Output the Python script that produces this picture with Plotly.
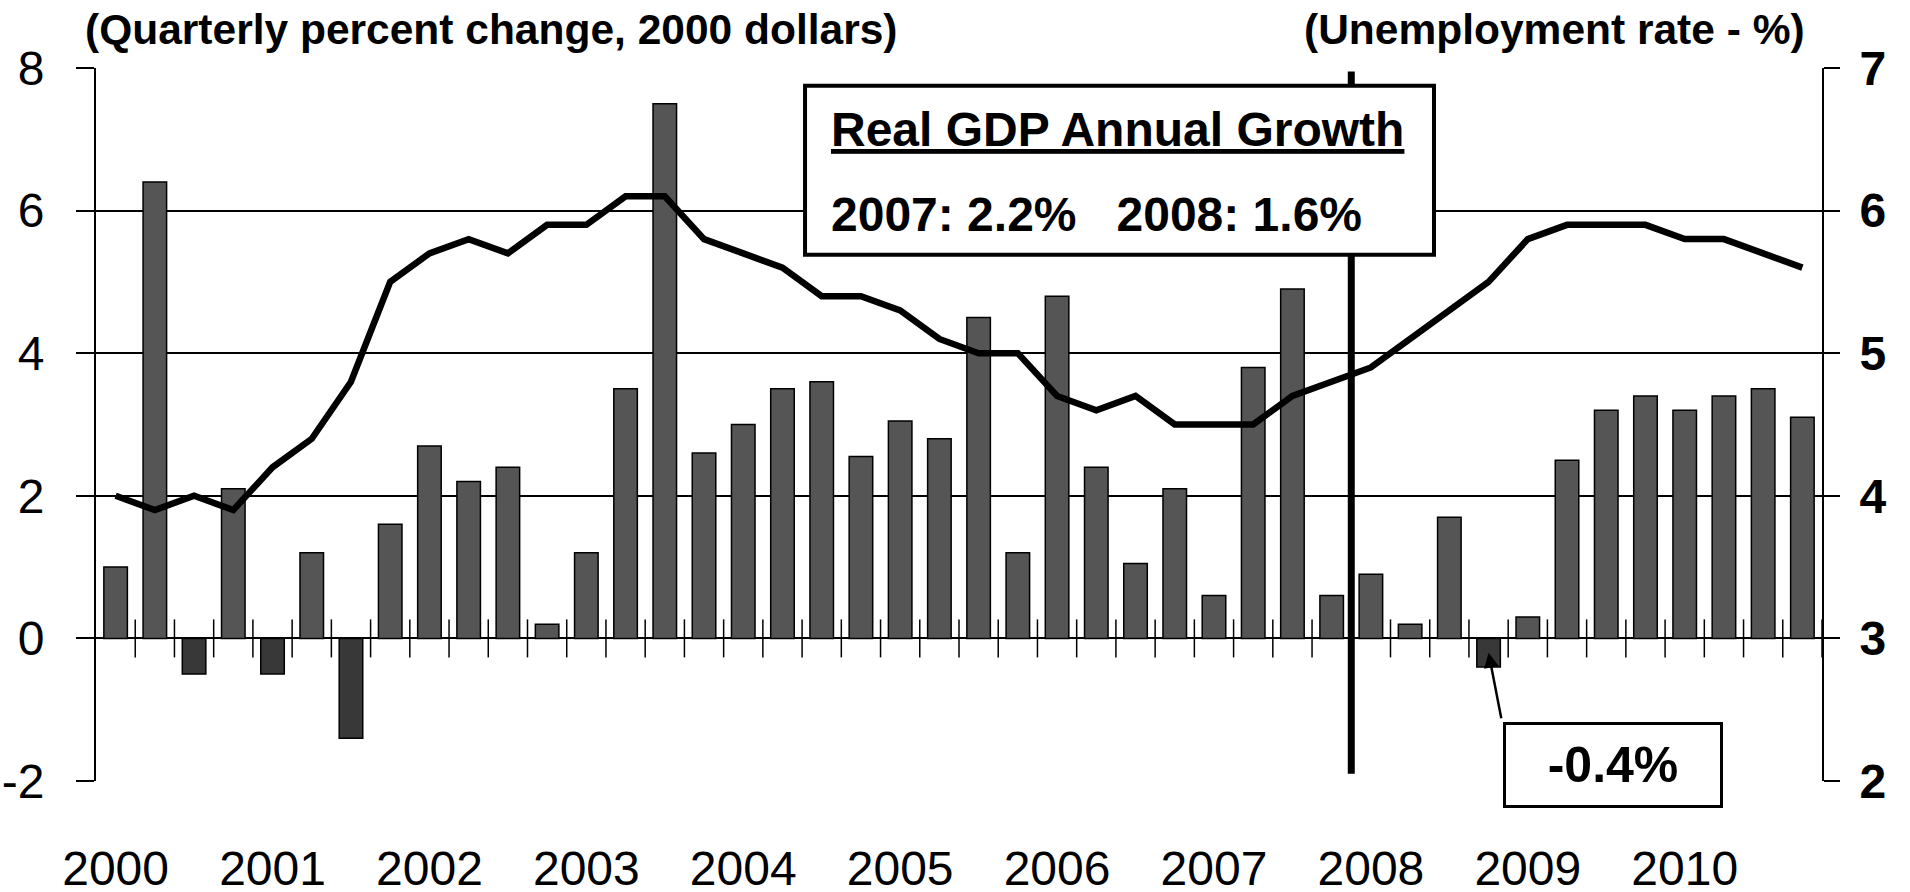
import plotly.graph_objects as go

# ---------------- data ----------------
years = ["2000", "2001", "2002", "2003", "2004", "2005",
         "2006", "2007", "2008", "2009", "2010"]
quarters = ["Q1", "Q2", "Q3", "Q4"]

# Real GDP, quarterly percent change (annualized), 2000Q1 .. 2010Q4
gdp_growth = [1.0, 6.4, -0.5, 2.1,
              -0.5, 1.2, -1.4, 1.6,
              2.7, 2.2, 2.4, 0.2,
              1.2, 3.5, 7.5, 2.6,
              3.0, 3.5, 3.6, 2.55,
              3.05, 2.8, 4.5, 1.2,
              4.8, 2.4, 1.05, 2.1,
              0.6, 3.8, 4.9, 0.6,
              0.9, 0.2, 1.7, -0.4,
              0.3, 2.5, 3.2, 3.4,
              3.2, 3.4, 3.5, 3.1]

# Unemployment rate (%), 2000Q1 .. 2010Q4
unemployment = [4.0, 3.9, 4.0, 3.9,
                4.2, 4.4, 4.8, 5.5,
                5.7, 5.8, 5.7, 5.9,
                5.9, 6.1, 6.1, 5.8,
                5.7, 5.6, 5.4, 5.4,
                5.3, 5.1, 5.0, 5.0,
                4.7, 4.6, 4.7, 4.5,
                4.5, 4.5, 4.7, 4.8,
                4.9, 5.1, 5.3, 5.5,
                5.8, 5.9, 5.9, 5.9,
                5.8, 5.8, 5.7, 5.6]

left_ticks = [-2, 0, 2, 4, 6, 8]
left_ticktext = ["-2", "0", "2", "4", "6", "8"]
right_ticks = [2, 3, 4, 5, 6, 7]
right_ticktext = ["2", "3", "4", "5", "6", "7"]

annual_title = "Real GDP Annual Growth"
annual_labels = ["2007", "2008"]
annual_values = [2.2, 1.6]
left_title = "(Quarterly percent change, 2000 dollars)"
right_title = "(Unemployment rate - %)"
break_year = "2008"          # vertical divider before this year's Q1
callout_quarter = ("2008", "Q4")

# ---------------- derived ----------------
labels = [f"{y}{q}" for y in years for q in quarters]
xi = list(range(len(labels)))
year_pos = [labels.index(f"{y}Q1") for y in years]
boundaries = [i + 0.5 for i in range(len(labels))]
bar_colors = ["#555555" if v >= 0 else "#383838" for v in gdp_growth]

FONT = "Liberation Sans, Arial, sans-serif"
tick_half = 19  # quarter ticks cross the zero line by this many px each way

fig = go.Figure()
fig.add_trace(go.Bar(
    x=xi, y=gdp_growth, marker=dict(color=bar_colors,
                                    line=dict(color="black", width=1.5)),
    width=0.6, hovertext=labels, showlegend=False, yaxis="y"))
fig.add_trace(go.Scatter(
    x=xi, y=unemployment, mode="lines", line=dict(color="black", width=6.5),
    hovertext=labels, showlegend=False, yaxis="y2"))

xr = [-0.5, len(labels) - 0.5]
ylo, yhi = left_ticks[0], left_ticks[-1]

fig.update_layout(
    width=1910, height=892,
    margin=dict(l=96, r=88, t=68, b=111, autoexpand=False),
    paper_bgcolor="white", plot_bgcolor="white",
    font=dict(family=FONT, color="black"),
    bargap=0.4,
    xaxis=dict(range=xr, tickmode="array", tickvals=year_pos, ticktext=years,
               ticks="", showgrid=False, zeroline=False, showline=False,
               tickfont=dict(size=48, family=FONT, color="black"),
               ticklabelstandoff=55),
    yaxis=dict(range=[ylo, yhi], tickmode="array", tickvals=left_ticks,
               ticktext=left_ticktext, showgrid=True, gridcolor="black",
               gridwidth=2, zeroline=False, showline=True, linecolor="black",
               linewidth=2, ticks="outside", ticklen=18, tickwidth=2,
               tickcolor="black", ticklabelstandoff=22,
               tickfont=dict(size=48, family=FONT, color="black")),
    yaxis2=dict(range=[right_ticks[0], right_ticks[-1]], overlaying="y",
                side="right", tickmode="array", tickvals=right_ticks,
                ticktext=[f"<b>{t}</b>" for t in right_ticktext],
                showgrid=False, zeroline=False, showline=True,
                linecolor="black", linewidth=2, ticks="outside", ticklen=16,
                tickwidth=2, tickcolor="black", ticklabelstandoff=10,
                tickfont=dict(size=48, family=FONT, color="black")),
)

# quarter tick marks crossing the zero line
for b in boundaries:
    fig.add_shape(type="line", xref="x", yref="y", x0=b, x1=b,
                  ysizemode="pixel", yanchor=0, y0=-tick_half, y1=tick_half,
                  line=dict(color="black", width=1.5), layer="below")

# vertical divider at the start of break_year
bx = labels.index(f"{break_year}Q1") - 0.5
fig.add_shape(type="line", xref="x", yref="y", x0=bx, x1=bx,
              y0=ylo + 0.1, y1=yhi - 0.05,
              line=dict(color="black", width=7), layer="above")

# annual growth box
fig.add_shape(type="rect", xref="paper", yref="paper",
              x0=0.4108, x1=0.7752, y0=0.738, y1=0.975,
              line=dict(color="black", width=4), fillcolor="white",
              layer="above")
fig.add_annotation(xref="paper", yref="paper", x=0.4247, y=0.914,
                   xanchor="left", yanchor="middle", showarrow=False,
                   text=f"<b><u>{annual_title}</u></b>",
                   font=dict(size=48, family=FONT, color="black"))
annual_text = ("\u00a0\u00a0 ").join(
    f"{lab}: {val:.1f}%" for lab, val in zip(annual_labels, annual_values))
fig.add_annotation(xref="paper", yref="paper", x=0.4247, y=0.795,
                   xanchor="left", yanchor="middle", showarrow=False,
                   text=f"<b>{annual_text}</b>",
                   font=dict(size=48, family=FONT, color="black"))

# axis titles
fig.add_annotation(xref="paper", yref="paper", x=-0.0075, y=1.0537,
                   xanchor="left", yanchor="middle", showarrow=False,
                   text=f"<b>{left_title}</b>",
                   font=dict(size=42.5, family=FONT, color="black"))
fig.add_annotation(xref="paper", yref="paper", x=0.9913, y=1.0537,
                   xanchor="right", yanchor="middle", showarrow=False,
                   text=f"<b>{right_title}</b>",
                   font=dict(size=42.5, family=FONT, color="black"))

# call-out for the negative quarter
ci = labels.index("".join(callout_quarter))
cv = gdp_growth[ci]
fig.add_annotation(xref="x", yref="y", x=ci, y=cv / 2, ax=13, ay=67,
                   text="", showarrow=True, arrowhead=2, arrowsize=1.2,
                   arrowwidth=2.5, arrowcolor="black")
fig.add_annotation(xref="paper", yref="paper", x=0.8787, y=0.0227,
                   xanchor="center", yanchor="middle", showarrow=False,
                   text=f"<b>{cv:.1f}%</b>", width=210, height=76,
                   bgcolor="white", bordercolor="black", borderwidth=3,
                   borderpad=2,
                   font=dict(size=50, family=FONT, color="black"))

fig.write_html("out.html", config={"displayModeBar": False},
               post_script="document.body.style.margin='0';")
